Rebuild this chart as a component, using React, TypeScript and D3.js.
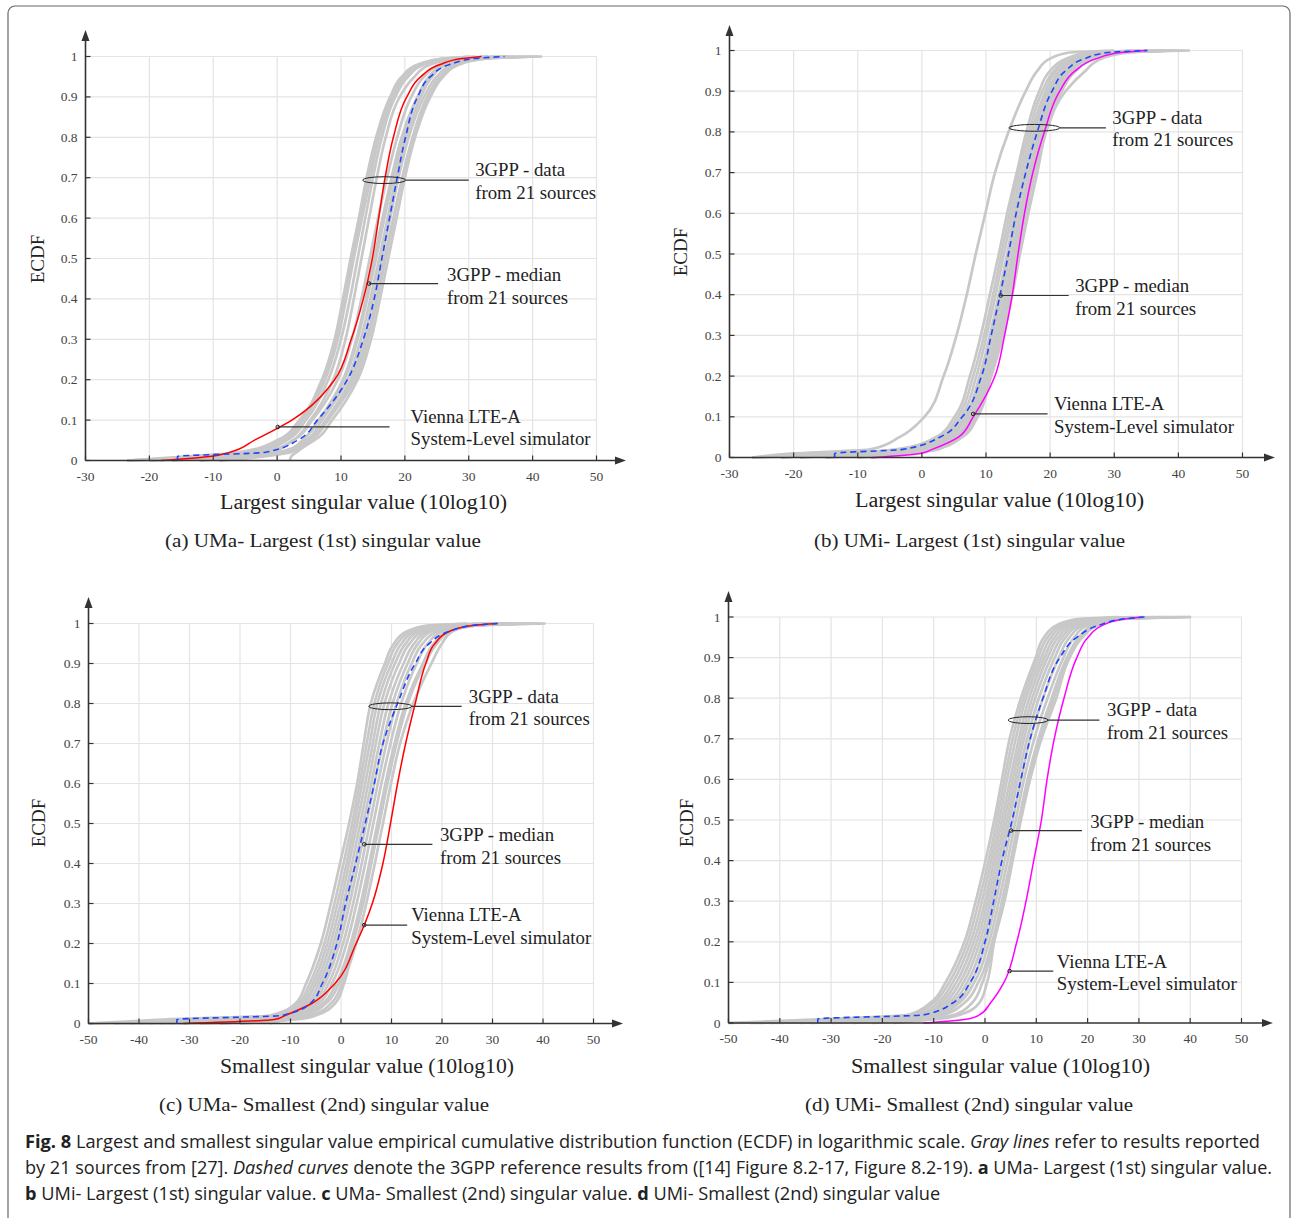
import React, { useLayoutEffect, useRef, useState } from 'react';
import * as d3 from 'd3';

// ---------------- DATA ----------------
// CDF levels at which each curve's x-quantiles are listed
const PROBS = [0, 0.01, 0.02, 0.05, 0.1, 0.2, 0.3, 0.4, 0.5, 0.6, 0.7, 0.8, 0.9, 0.95, 0.98, 0.995, 1];

const Y_TICKS = [0, 0.1, 0.2, 0.3, 0.4, 0.5, 0.6, 0.7, 0.8, 0.9, 1];
const X_TICKS_LARGEST = [-30, -20, -10, 0, 10, 20, 30, 40, 50];
const X_TICKS_SMALLEST = [-50, -40, -30, -20, -10, 0, 10, 20, 30, 40, 50];

// (a) UMa - largest singular value
const grayA = [
  [-23.5, -14, -6, 0, 3.5, 7, 9, 10.3, 11.5, 12.8, 14, 15.5, 17.7, 19.5, 22, 26, 30],
  [-20, -12, -5, 1, 4, 7.5, 9.5, 10.8, 12, 13.3, 14.6, 16, 18.2, 20, 22.5, 27, 33],
  [-16.5, -9, -3, 1.5, 4.5, 8, 10, 11.4, 12.6, 13.8, 15, 16.4, 18.5, 20.5, 23, 28, 35],
  [-12, -6, -1, 2.5, 5.2, 8.8, 10.7, 12, 13.2, 14.4, 15.6, 17, 19.2, 21.5, 24, 29, 36],
  [-9, -3, 1, 4, 6.5, 10.5, 12.6, 14.1, 15.5, 16.8, 18.2, 19.8, 22, 23.8, 26, 30, 38],
  [-23.5, -8, 0, 4.5, 7, 11, 13.1, 14.6, 16, 17.3, 18.6, 20.2, 22.5, 24.3, 26.5, 31, 41],
  [-20, -5, 2, 5, 7.6, 11.5, 13.6, 15, 16.4, 17.7, 19, 20.6, 23, 25, 27.5, 32, 40],
  [2, 2.2, 3, 5.5, 8, 12.2, 14.3, 15.7, 17, 18.3, 19.6, 21.2, 23.5, 25.5, 28, 33, 41.5],
  [-16.5, -6, 1.5, 5.8, 8.6, 12.6, 14.7, 16.1, 17.4, 18.7, 20, 21.6, 24, 26, 28.5, 33, 39],
  [-12, -4, 1, 5, 7.8, 11.8, 14, 15.5, 16.8, 18.2, 19.6, 21.3, 23.8, 25.8, 28, 32, 37],
  [-9, -2, 1.5, 4, 6.5, 10.3, 12.4, 13.9, 15.2, 16.5, 17.9, 19.5, 22, 24, 26.5, 30, 34],
  [-23.5, -10, -2, 2.5, 5.5, 9.5, 11.7, 13.2, 14.5, 15.8, 17.2, 18.8, 21, 23, 25.5, 29, 33],
  [-20, -11, -4, 0.5, 3.8, 7.3, 9.3, 10.6, 11.8, 13, 14.3, 15.8, 18, 19.8, 22.2, 26, 31],
];
const medianA = [-15.6, -15.6, -2, 3.2, 6.3, 11, 13.5, 15.2, 16.4, 17.6, 18.8, 20.1, 22, 24, 27, 31, 35.6];
const viennaA = [-18.2, -10.5, -7.5, -3.6, 2.3, 9.0, 11.6, 13.5, 14.9, 15.9, 16.9, 18.2, 20.3, 22.5, 25.5, 29, 32];

// (b) UMi - largest singular value
const grayB = [
  [-26.5, -20, -8, -3.5, 0.4, 3.4, 5.4, 7.0, 8.4, 9.9, 11.4, 13.5, 16.2, 18, 20, 23, 30],
  [-22, -12, -4, 2.2, 5.1, 7.5, 9.2, 10.6, 12, 13.3, 14.8, 16.3, 18.3, 20, 22.5, 26, 34],
  [-19, -10, -3, 2.8, 5.6, 8, 9.7, 11.1, 12.4, 13.7, 15.1, 16.7, 18.8, 20.6, 23, 27, 36],
  [-15, -8, -1.5, 3.3, 6.1, 8.5, 10.1, 11.5, 12.8, 14.1, 15.5, 17.1, 19.3, 21, 23.5, 28, 38],
  [-10, -6, -0.5, 3.8, 6.6, 9, 10.6, 12, 13.3, 14.5, 15.9, 17.5, 19.7, 21.5, 24, 28.5, 40],
  [-8, -4, 0.5, 4.3, 7.1, 9.4, 11.1, 12.5, 13.7, 14.9, 16.3, 17.9, 20.2, 22, 24.5, 29, 41.8],
  [-26.5, -14, -2, 4.8, 7.5, 9.8, 11.5, 12.9, 14.1, 15.3, 16.7, 18.3, 20.6, 22.5, 25, 30, 39],
  [-22, -9, 0, 5.3, 8, 10.3, 12, 13.3, 14.5, 15.7, 17.1, 18.7, 21.1, 23, 25.5, 30, 37],
  [-19, -7, 1, 5.8, 8.4, 10.8, 12.4, 13.8, 15, 16.2, 17.6, 19.2, 21.8, 24, 27, 31, 40],
  [-15, -5, 2, 6.3, 8.7, 10.8, 12.7, 14.1, 15.3, 16.6, 18, 19.4, 22.4, 25.5, 28, 32, 41],
  [-10, -3, 1.5, 5, 7.8, 10, 11.8, 13.2, 14.4, 15.6, 17, 18.6, 20.8, 22.8, 25.5, 29.5, 35],
  [-8, -2, 2.5, 5.5, 8.2, 10.5, 12.2, 13.5, 14.8, 16, 17.4, 19, 21.4, 23.5, 26, 30, 38],
  [-26.5, -11, -1, 4, 6.8, 9.2, 10.9, 12.3, 13.5, 14.7, 16.1, 17.7, 19.9, 21.6, 24, 28, 33],
];
const medianB = [-13.6, -13.6, -3, 2.8, 6.3, 9.3, 10.8, 12.2, 13.5, 14.7, 16.2, 18, 20.3, 22.4, 25.4, 29, 35.2];
const viennaB = [-7.7, -0.2, 1.6, 5.7, 8, 11.4, 12.9, 14.1, 15, 16, 17.3, 19.1, 21.5, 23.9, 27.2, 31, 34.9];

// (c) UMa - smallest singular value
const grayC = [
  [-50, -35, -14, -9, -6.9, -4, -2, -0.2, 1.6, 3.2, 4.5, 5.9, 8.7, 10.5, 13, 17, 25],
  [-42, -28, -13, -8.5, -6.2, -3.3, -1.3, 0.5, 2.2, 3.7, 5.1, 6.6, 9.3, 11.2, 13.8, 18, 28],
  [-38, -24, -12, -8, -5.6, -2.7, -0.7, 1.1, 2.7, 4.2, 5.7, 7.2, 10, 12, 14.5, 19, 30],
  [-34, -20, -11, -7.4, -5, -2.1, -0.1, 1.6, 3.2, 4.8, 6.3, 7.9, 10.7, 12.8, 15.3, 20, 32],
  [-50, -18, -10.5, -6.8, -4.4, -1.5, 0.5, 2.2, 3.8, 5.4, 6.9, 8.6, 11.5, 13.6, 16.2, 21, 35],
  [-45, -16, -10, -6.2, -3.8, -0.9, 1.1, 2.8, 4.4, 6, 7.6, 9.4, 12.4, 14.5, 17, 22, 38],
  [-40, -15, -9.5, -5.6, -3.2, -0.3, 1.7, 3.4, 5, 6.6, 8.3, 10.2, 13.2, 15.3, 17.8, 23, 40.5],
  [-36, -14, -9, -5, -2.5, 0.4, 2.4, 4.1, 5.7, 7.3, 9, 11, 14, 16.2, 19, 24, 39],
  [-32, -13, -8.5, -4.4, -1.8, 1.1, 3.1, 4.8, 6.4, 8, 9.8, 11.9, 15, 17.2, 20, 25, 37],
  [-28, -12, -8, -3.6, -1, 1.9, 3.9, 5.6, 7.2, 8.8, 10.6, 12.8, 16.2, 18.4, 21, 26, 36],
  [-24, -10, -6, -2, 0.2, 3, 5, 6.7, 8.3, 9.9, 11.7, 14.3, 17.9, 20, 22, 27, 40],
  [-20, -9, -5, -1.2, 0.6, 2.4, 4.4, 6, 7.6, 9.2, 11, 13.2, 16.6, 19, 21.5, 26, 34],
  [-14, -11, -7, -3, -0.4, 2.2, 4.2, 5.9, 7.5, 9.1, 10.9, 13, 16.4, 18.8, 21.2, 25.5, 33],
];
const medianC = [-32.5, -32.5, -11.8, -6.1, -3.7, -0.8, 0.9, 2.9, 4.8, 6.6, 8.3, 11.2, 14.7, 17.5, 21.4, 26, 31];
const viennaC = [-31.2, -13.2, -11.1, -5.8, -1.2, 3, 6.2, 8.3, 9.8, 11.2, 12.8, 14.7, 16.8, 18.6, 21.4, 26, 31];

// (d) UMi - smallest singular value
const grayD = [
  [-50, -30, -15, -10.6, -7.7, -4, -1.8, 0.1, 1.8, 3.3, 4.8, 7, 9.9, 11.5, 14, 18, 26],
  [-44, -26, -14, -10, -7, -3.4, -1.2, 0.7, 2.3, 3.8, 5.4, 7.5, 10.4, 12.2, 14.8, 19, 29],
  [-40, -23, -13, -9.2, -6.3, -2.8, -0.6, 1.2, 2.8, 4.3, 6, 8, 11, 12.9, 15.5, 20, 31],
  [-36, -20, -12, -8.5, -5.6, -2.2, 0, 1.7, 3.3, 4.9, 6.6, 8.6, 11.6, 13.6, 16.2, 21, 33],
  [-50, -18, -11.5, -7.8, -4.9, -1.6, 0.5, 2.2, 3.8, 5.4, 7.1, 9.2, 12.2, 14.3, 17, 22, 36],
  [-46, -16, -11, -7.1, -4.2, -1, 1, 2.7, 4.3, 5.9, 7.6, 9.8, 12.9, 15, 17.7, 23, 38],
  [-42, -15, -10.5, -6.4, -3.5, -0.4, 1.5, 3.2, 4.8, 6.4, 8.2, 10.5, 13.6, 15.7, 18.4, 24, 40.2],
  [-34, -14, -10, -5.7, -2.8, 0.2, 2.1, 3.8, 5.4, 7, 8.8, 11.3, 14.4, 16.5, 19.2, 25, 39],
  [-30, -13, -9, -5, -2.1, 0.8, 2.7, 4.4, 6, 7.6, 9.6, 12.2, 15.3, 17.4, 20, 26, 37],
  [-26, -12, -8, -4, -1.3, 1.4, 3.3, 5, 6.6, 8.3, 10.4, 13, 16, 18.3, 21, 27, 35],
  [-22, -9, -5, -1.1, 0.4, 1.8, 3.8, 5.4, 7, 8.8, 11, 13.9, 16.5, 19, 22, 27, 40],
  [-18, -10, -6, -2.5, -0.5, 1.6, 3.5, 5.2, 6.8, 8.5, 10.6, 13.4, 16.3, 18.6, 21.5, 26, 34],
];
const medianD = [-32.6, -32.6, -12, -6.2, -2.9, 0, 1.7, 3.3, 5.3, 7, 8.8, 11.3, 14.6, 17.9, 22.3, 27, 31.1];
const viennaD = [-12, -3.3, -1.1, 1.1, 3.7, 6.2, 8, 9.5, 11, 12.1, 13.5, 15.4, 17.9, 20.1, 23, 27, 30.7];

const ANNOT_DATA = ['3GPP - data', 'from 21 sources'];
const ANNOT_MEDIAN = ['3GPP - median', 'from 21 sources'];
const ANNOT_VIENNA = ['Vienna LTE-A', 'System-Level simulator'];

// ---------------- LAYOUT ----------------
const SERIF = "'Liberation Serif', 'Times New Roman', serif";
const SANS = "'Open Sans', 'Liberation Sans', sans-serif";

type Panel = {
  key: string;
  xDomain: [number, number];
  xTicks: number[];
  xRange: [number, number];
  yRange: [number, number];
  yArrowTop: number;
  xArrowRight: number;
  gray: number[][];
  median: number[];
  vienna: number[];
  viennaColor: string;
  xTitle: string;
  xTitleBox: [number, number, number];
  sub: string;
  subBox: [number, number, number];
  ecdfPos: [number, number];
  ann: {
    data: { ell: [number, number, number]; lead: number; tx: number; ty: [number, number] };
    median: { m: [number, number]; lead: number; tx: number; ty: [number, number] };
    vienna: { m: [number, number]; lead: number; tx: number; ty: [number, number] };
  };
};

const panels: Panel[] = [
  {
    key: 'a',
    xDomain: [-30, 50], xTicks: X_TICKS_LARGEST,
    xRange: [85.5, 596.5], yRange: [460.5, 56.5],
    yArrowTop: 30, xArrowRight: 626,
    gray: grayA, median: medianA, vienna: viennaA, viennaColor: '#ff0000',
    xTitle: 'Largest singular value (10log10)', xTitleBox: [220, 507, 509],
    sub: '(a) UMa- Largest (1st) singular value', subBox: [165, 481, 547],
    ecdfPos: [43.5, 259],
    ann: {
      data: { ell: [13.4, 20.1, 0.694], lead: 30.0, tx: 31.0, ty: [0.719, 0.663] },
      median: { m: [14.4, 0.438], lead: 25.2, tx: 26.6, ty: [0.461, 0.404] },
      vienna: { m: [0.1, 0.083], lead: 17.6, tx: 20.9, ty: [0.108, 0.053] },
    },
  },
  {
    key: 'b',
    xDomain: [-30, 50], xTicks: X_TICKS_LARGEST,
    xRange: [729.5, 1242.5], yRange: [457.5, 50.5],
    yArrowTop: 25, xArrowRight: 1275,
    gray: grayB, median: medianB, vienna: viennaB, viennaColor: '#ff00ff',
    xTitle: 'Largest singular value (10log10)', xTitleBox: [855, 1144, 507],
    sub: '(b) UMi- Largest (1st) singular value', subBox: [814, 1125, 547],
    ecdfPos: [687, 252],
    ann: {
      data: { ell: [13.6, 21.5, 0.81], lead: 28.7, tx: 29.7, ty: [0.836, 0.78] },
      median: { m: [12.3, 0.398], lead: 22.9, tx: 23.9, ty: [0.421, 0.365] },
      vienna: { m: [8.0, 0.107], lead: 19.6, tx: 20.6, ty: [0.131, 0.075] },
    },
  },
  {
    key: 'c',
    xDomain: [-50, 50], xTicks: X_TICKS_SMALLEST,
    xRange: [88.5, 593.5], yRange: [1023.5, 623.5],
    yArrowTop: 597, xArrowRight: 623,
    gray: grayC, median: medianC, vienna: viennaC, viennaColor: '#ff0000',
    xTitle: 'Smallest singular value (10log10)', xTitleBox: [220, 514, 1073],
    sub: '(c) UMa- Smallest (2nd) singular value', subBox: [159, 489, 1111],
    ecdfPos: [44.5, 823],
    ann: {
      data: { ell: [5.5, 14.0, 0.793], lead: 23.9, tx: 25.3, ty: [0.818, 0.763] },
      median: { m: [4.6, 0.448], lead: 18.1, tx: 19.6, ty: [0.471, 0.415] },
      vienna: { m: [4.6, 0.246], lead: 13.1, tx: 13.9, ty: [0.273, 0.215] },
    },
  },
  {
    key: 'd',
    xDomain: [-50, 50], xTicks: X_TICKS_SMALLEST,
    xRange: [728.5, 1241.5], yRange: [1023, 617],
    yArrowTop: 591, xArrowRight: 1273,
    gray: grayD, median: medianD, vienna: viennaD, viennaColor: '#ff00ff',
    xTitle: 'Smallest singular value (10log10)', xTitleBox: [851, 1150, 1073],
    sub: '(d) UMi- Smallest (2nd) singular value', subBox: [805, 1133, 1111],
    ecdfPos: [692.5, 823],
    ann: {
      data: { ell: [4.5, 12.3, 0.746], lead: 22.3, tx: 23.8, ty: [0.771, 0.715] },
      median: { m: [5.1, 0.474], lead: 18.9, tx: 20.5, ty: [0.497, 0.44] },
      vienna: { m: [4.8, 0.128], lead: 13.3, tx: 14.0, ty: [0.152, 0.097] },
    },
  },
];

const AXIS = '#333';
const GRID = '#e4e4e4';
const TICKTXT = '#444';

function PanelView({ p }: { p: Panel }) {
  const x = d3.scaleLinear().domain(p.xDomain).range(p.xRange);
  const y = d3.scaleLinear().domain([0, 1]).range(p.yRange);
  const line = d3
    .line<[number, number]>()
    .x((d) => x(d[0]))
    .y((d) => y(d[1]))
    .curve(d3.curveMonotoneY);
  const toPts = (arr: number[]): [number, number][] => arr.map((v, i) => [v, PROBS[i]]);
  const x0 = p.xRange[0];
  const x1 = p.xRange[1];
  const y0 = y(0);
  const y1 = y(1);
  const annFont = 18.8;
  const base = 6.3;
  const textLines = (lines: string[], tx: number, ty: [number, number]) =>
    lines.map((s, i) => (
      <text key={i} x={x(tx)} y={y(ty[i]) + base} fontFamily={SERIF} fontSize={annFont} fill="#222">
        {s}
      </text>
    ));
  const a = p.ann;
  const ex1 = x(a.data.ell[0]);
  const ex2 = x(a.data.ell[1]);
  const ey = y(a.data.ell[2]);
  return (
    <g>
      {/* grid */}
      {p.xTicks.slice(1).map((t) => (
        <line key={'gx' + t} x1={x(t)} x2={x(t)} y1={y0} y2={y1} stroke={GRID} strokeWidth={1.2} />
      ))}
      {Y_TICKS.slice(1).map((t) => (
        <line key={'gy' + t} x1={x0} x2={x1} y1={y(t)} y2={y(t)} stroke={GRID} strokeWidth={1.2} />
      ))}
      {/* gray curves */}
      {p.gray.map((c, i) => (
        <path key={'g' + i} d={line(toPts(c)) || ''} fill="none" stroke="#c8c8c8" strokeWidth={2.7} strokeLinejoin="round" />
      ))}
      {/* simulator */}
      <path d={line(toPts(p.vienna)) || ''} fill="none" stroke={p.viennaColor} strokeWidth={1.5} />
      {/* median dashed */}
      <path d={line(toPts(p.median)) || ''} fill="none" stroke="#1f45fc" strokeWidth={1.6} strokeDasharray="6,4" />
      {/* axes */}
      <line x1={x0} x2={x0} y1={y0} y2={p.yArrowTop + 8} stroke={AXIS} strokeWidth={1.6} />
      <path d={`M${x0},${p.yArrowTop} L${x0 - 4},${p.yArrowTop + 11} L${x0 + 4},${p.yArrowTop + 11} Z`} fill={AXIS} />
      <line x1={x0} x2={p.xArrowRight - 8} y1={y0} y2={y0} stroke={AXIS} strokeWidth={1.6} />
      <path d={`M${p.xArrowRight},${y0} L${p.xArrowRight - 11},${y0 - 4} L${p.xArrowRight - 11},${y0 + 4} Z`} fill={AXIS} />
      {Y_TICKS.map((t) => (
        <g key={'yt' + t}>
          <line x1={x0} x2={x0 + 5} y1={y(t)} y2={y(t)} stroke={AXIS} strokeWidth={1.2} />
          <text x={x0 - 8} y={y(t) + 4.5} textAnchor="end" fontFamily={SERIF} fontSize={13.5} fill={TICKTXT}>
            {String(t)}
          </text>
        </g>
      ))}
      {p.xTicks.map((t) => (
        <g key={'xt' + t}>
          <line x1={x(t)} x2={x(t)} y1={y0} y2={y0 - 5} stroke={AXIS} strokeWidth={1.2} />
          <text x={x(t)} y={y0 + 20} textAnchor="middle" fontFamily={SERIF} fontSize={13.5} fill={TICKTXT}>
            {String(t)}
          </text>
        </g>
      ))}
      {/* labels */}
      <text
        transform={`translate(${p.ecdfPos[0]},${p.ecdfPos[1]}) rotate(-90)`}
        textAnchor="middle"
        fontFamily={SERIF}
        fontSize={19}
        fill="#222"
      >
        ECDF
      </text>
      <text
        x={p.xTitleBox[0]}
        y={p.xTitleBox[2]}
        textLength={p.xTitleBox[1] - p.xTitleBox[0]}
        lengthAdjust="spacingAndGlyphs"
        fontFamily={SERIF}
        fontSize={20}
        fill="#222"
      >
        {p.xTitle}
      </text>
      <text
        x={p.subBox[0]}
        y={p.subBox[2]}
        textLength={p.subBox[1] - p.subBox[0]}
        lengthAdjust="spacingAndGlyphs"
        fontFamily={SERIF}
        fontSize={19}
        fill="#222"
      >
        {p.sub}
      </text>
      {/* annotations */}
      <ellipse cx={(ex1 + ex2) / 2} cy={ey} rx={(ex2 - ex1) / 2} ry={3.4} fill="none" stroke="#222" strokeWidth={1} />
      <line x1={ex2} x2={x(a.data.lead)} y1={ey} y2={ey} stroke="#333" strokeWidth={1.2} />
      {textLines(ANNOT_DATA, a.data.tx, a.data.ty)}
      <circle cx={x(a.median.m[0])} cy={y(a.median.m[1])} r={1.8} fill="none" stroke="#222" strokeWidth={1} />
      <line x1={x(a.median.m[0])} x2={x(a.median.lead)} y1={y(a.median.m[1])} y2={y(a.median.m[1])} stroke="#333" strokeWidth={1.2} />
      {textLines(ANNOT_MEDIAN, a.median.tx, a.median.ty)}
      <circle cx={x(a.vienna.m[0])} cy={y(a.vienna.m[1])} r={1.8} fill="none" stroke="#222" strokeWidth={1} />
      <line x1={x(a.vienna.m[0])} x2={x(a.vienna.lead)} y1={y(a.vienna.m[1])} y2={y(a.vienna.m[1])} stroke="#333" strokeWidth={1.2} />
      {textLines(ANNOT_VIENNA, a.vienna.tx, a.vienna.ty)}
    </g>
  );
}

// caption lines: [left x, right x, baseline y]
const CAPTION_BOXES: [number, number, number][] = [
  [25, 1261, 1148],
  [25, 1273, 1174],
  [25, 941, 1200],
];

function CaptionLine({ box, children }: { box: [number, number, number]; children: React.ReactNode }) {
  const ref = useRef<SVGTextElement>(null);
  const [sx, setSx] = useState(1);
  useLayoutEffect(() => {
    if (ref.current) {
      const w = ref.current.getComputedTextLength();
      if (w > 0) setSx((box[1] - box[0]) / w);
    }
  }, []);
  return (
    <g transform={`translate(${box[0]},${box[2]}) scale(${sx},1)`}>
      <text ref={ref} x={0} y={0} fontFamily={SANS} fontSize={18.5} fill="#222">
        {children}
      </text>
    </g>
  );
}

export default function App() {
  return (
    <svg
      width={1294}
      height={1218}
      viewBox="0 0 1294 1218"
      style={{ position: 'absolute', left: 0, top: 0, background: '#fff' }}
    >
      <rect x={0} y={0} width={1294} height={1218} fill="#fff" />
      <rect x={8} y={6} width={1282} height={1230} rx={7} fill="none" stroke="#666" strokeWidth={1.2} />
      {panels.map((p) => (
        <PanelView key={p.key} p={p} />
      ))}
      <CaptionLine box={CAPTION_BOXES[0]}>
        <tspan fontWeight="bold">Fig. 8</tspan>
        {' Largest and smallest singular value empirical cumulative distribution function (ECDF) in logarithmic scale. '}
        <tspan fontStyle="italic">Gray lines</tspan>
        {' refer to results reported'}
      </CaptionLine>
      <CaptionLine box={CAPTION_BOXES[1]}>
        {'by 21 sources from [27]. '}
        <tspan fontStyle="italic">Dashed curves</tspan>
        {' denote the 3GPP reference results from ([14] Figure 8.2-17, Figure 8.2-19). '}
        <tspan fontWeight="bold">a</tspan>
        {' UMa- Largest (1st) singular value.'}
      </CaptionLine>
      <CaptionLine box={CAPTION_BOXES[2]}>
        <tspan fontWeight="bold">b</tspan>
        {' UMi- Largest (1st) singular value. '}
        <tspan fontWeight="bold">c</tspan>
        {' UMa- Smallest (2nd) singular value. '}
        <tspan fontWeight="bold">d</tspan>
        {' UMi- Smallest (2nd) singular value'}
      </CaptionLine>
    </svg>
  );
}
